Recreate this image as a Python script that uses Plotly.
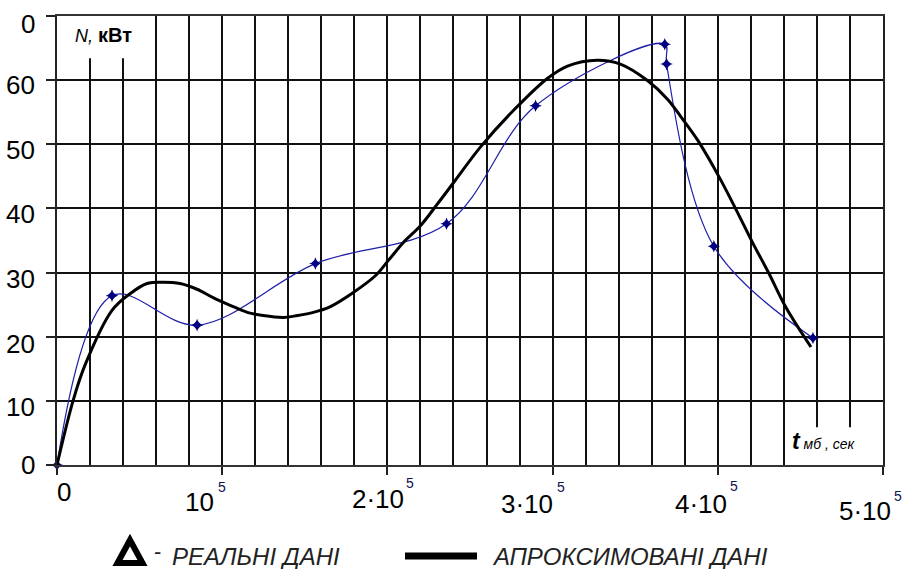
import plotly.graph_objects as go

# ---------------- data ----------------
real_t = [0, 33300, 84800, 156400, 235800, 289700, 367900, 369000, 397600, 457600]
real_n = [0, 26.4, 21.8, 31.4, 37.6, 56.0, 65.6, 62.5, 34.1, 19.8]

approx_t = [0, 9700, 17000, 33300, 44200, 54500, 64200, 74500, 84800, 94500,
            104800, 115200, 124800, 137000, 145500, 155200, 165500, 179400,
            192700, 200600, 209700, 220000, 230300, 240000, 256400, 276400,
            297000, 309000, 327000, 341000, 357600, 369700, 377600, 387900,
            400600, 410900, 421200, 430900, 441200, 456400]
approx_n = [0, 10.0, 15.6, 24.1, 26.7, 28.3, 28.5, 28.3, 27.4, 26.1,
            24.9, 23.8, 23.3, 23.0, 23.3, 23.8, 24.7, 26.9,
            29.5, 31.9, 34.7, 37.3, 40.7, 44.0, 49.6, 55.3,
            60.3, 62.2, 63.1, 62.5, 59.9, 57.0, 54.3, 50.6,
            45.0, 39.9, 34.6, 29.9, 24.6, 18.4]

y_ticks = [0, 10, 20, 30, 40, 50, 60, 70]
y_tick_text = ["0", "10", "20", "30", "40", "50", "60", "0"]
x_ticks = [0, 100000, 200000, 300000, 400000, 500000]
x_tick_base = ["0", "10", "2·10", "3·10", "4·10", "5·10"]
x_tick_sup = ["", "5", "5", "5", "5", "5"]

y_label = "<i>N,</i> <b><span style='font-size:20px'>кВт</span></b>"
x_label = "<b><i><span style='font-size:23px'>t</span></i></b><i> мб , сек</i>"
legend_real = "РЕАЛЬНІ ДАНІ"
legend_approx = "АПРОКСИМОВАНІ ДАНІ"

# ---------------- layout helpers ----------------
W, H = 904, 569
L, R, T, B = 57, 21, 16, 104
PW, PH = W - L - R, H - T - B
FONT = "Arial, 'Liberation Sans', sans-serif"


def px_x(px):
    return (px - L) / PW


def px_y(py):
    return (H - B - py) / PH


fig = go.Figure()

fig.add_trace(go.Scatter(
    x=real_t, y=real_n, mode="lines+markers",
    line=dict(color="#1f1fa8", width=1.2, shape="spline", smoothing=1.0),
    marker=dict(symbol="star-diamond", size=9, color="#000080"),
    cliponaxis=False, showlegend=False))

fig.add_trace(go.Scatter(
    x=approx_t, y=approx_n, mode="lines",
    line=dict(color="black", width=3, shape="spline", smoothing=1.0),
    showlegend=False))

annotations = []
# y tick labels
y_shifts = [0, -6, -7, -6, -6, -6, -5, -8]
for v, txt, ys in zip(y_ticks, y_tick_text, y_shifts):
    annotations.append(dict(xref="paper", x=0, yref="y", y=v, text=txt,
                            xanchor="right", yanchor="middle", xshift=-20, yshift=ys,
                            showarrow=False, font=dict(size=26, color="black", family=FONT)))
# x tick labels (base + superscript)
base_dx = [7, -23, -9, -26, -17, -18]
base_dy = [-27, -37, -34, -39, -39, -46]
sup_dx = [0, 0, 23, 8, 16, 15]
sup_dy = [0, -22, -18, -22, -21, -31]
for v, b, s, bx, by, sx, sy in zip(x_ticks, x_tick_base, x_tick_sup, base_dx, base_dy, sup_dx, sup_dy):
    annotations.append(dict(xref="x", x=v, yref="paper", y=0, text=b,
                            xanchor="center", yanchor="middle", xshift=bx, yshift=by,
                            showarrow=False, font=dict(size=26, color="black", family=FONT)))
    if s:
        annotations.append(dict(xref="x", x=v, yref="paper", y=0, text=s,
                                xanchor="center", yanchor="middle", xshift=sx, yshift=sy,
                                showarrow=False, font=dict(size=14, color="#101050", family=FONT)))

# axis titles
annotations.append(dict(xref="paper", x=px_x(73), yref="paper", y=px_y(35), text=y_label,
                        xanchor="left", yanchor="middle", showarrow=False,
                        font=dict(size=18, color="black", family=FONT)))
annotations.append(dict(xref="paper", x=px_x(790), yref="paper", y=px_y(441), text=x_label,
                        xanchor="left", yanchor="middle", showarrow=False,
                        font=dict(size=14, color="black", family=FONT)))

# legend texts
annotations.append(dict(xref="paper", x=px_x(152), yref="paper", y=px_y(551), text="-",
                        xanchor="left", yanchor="middle", showarrow=False,
                        font=dict(size=22, color="#222", family=FONT)))
annotations.append(dict(xref="paper", x=px_x(170), yref="paper", y=px_y(556), text="<i>" + legend_real + "</i>",
                        xanchor="left", yanchor="middle", showarrow=False,
                        font=dict(size=24, color="#222", family=FONT)))
annotations.append(dict(xref="paper", x=px_x(490), yref="paper", y=px_y(556), text="<i>" + legend_approx + "</i>",
                        xanchor="left", yanchor="middle", showarrow=False,
                        font=dict(size=24, color="#222", family=FONT)))

shapes = [
    # white box behind N, кВт
    dict(type="rect", xref="x", yref="y", x0=0, x1=57000, y0=63.4, y1=70,
         fillcolor="white", line=dict(width=0), layer="between"),
    # white box behind t label
    dict(type="rect", xref="x", yref="y", x0=441500, x1=500000, y0=0, y1=5.9,
         fillcolor="white", line=dict(width=0), layer="between"),
    # legend triangle
    dict(type="path", xref="paper", yref="paper",
         path="M {} {} L {} {} L {} {} Z".format(px_x(130), px_y(540), px_x(117.5), px_y(563),
                                                 px_x(142.5), px_y(563)),
         fillcolor="white", line=dict(color="black", width=6)),
    # legend line
    dict(type="line", xref="paper", yref="paper", x0=px_x(405), x1=px_x(477),
         y0=px_y(556), y1=px_y(556), line=dict(color="black", width=7)),
]

fig.update_layout(
    width=W, height=H, autosize=False,
    margin=dict(l=L, r=R, t=T, b=B),
    paper_bgcolor="white", plot_bgcolor="white",
    font=dict(family=FONT, color="black"),
    xaxis=dict(range=[0, 500000], tick0=0, dtick=100000, showgrid=True,
               gridcolor="#111", gridwidth=2, ticks="outside", ticklen=8,
               tickwidth=2, tickcolor="#222", showticklabels=False,
               showline=True, mirror=True, linecolor="#333", linewidth=2,
               zeroline=False,
               minor=dict(dtick=20000, showgrid=True, gridcolor="#111", gridwidth=2, ticks="")),
    yaxis=dict(range=[0, 70], tick0=0, dtick=10, showgrid=True,
               gridcolor="#111", gridwidth=2, ticks="outside", ticklen=9,
               tickwidth=2, tickcolor="#222", showticklabels=False,
               showline=True, mirror=True, linecolor="#222", linewidth=2,
               zeroline=False),
    annotations=annotations,
    shapes=shapes,
)

fig.write_html("out.html", config={"displayModeBar": False},
               post_script="document.body.style.margin='0';document.body.style.overflow='hidden';")
